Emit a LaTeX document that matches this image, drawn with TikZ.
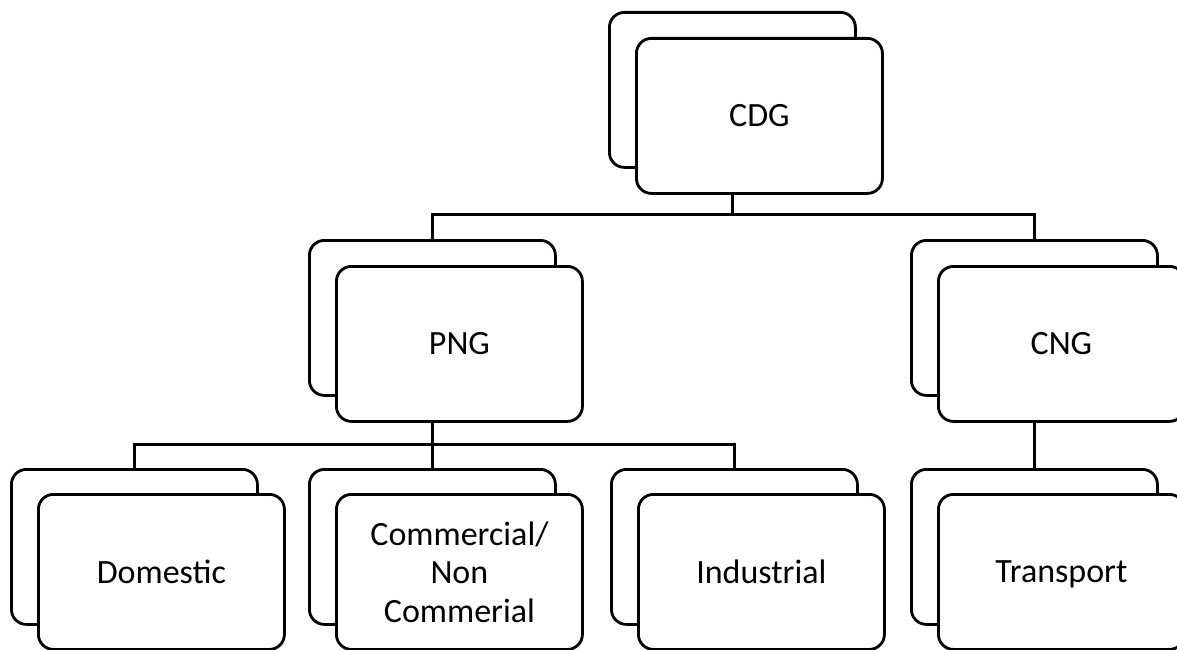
\documentclass[tikz,border=0pt]{standalone}
\usepackage{fontspec}
\setmainfont{Carlito}
\begin{document}
\begin{tikzpicture}[x=1pt,y=-1pt,
  card/.style={draw=black, line width=2.8pt, fill=white, rounded corners=15pt,
    minimum width=246pt, minimum height=155pt, inner sep=0pt, anchor=north west},
  label/.style={align=center, font=\fontsize{34}{38.5}\selectfont},
  link/.style={draw=black, line width=2.8pt}]
\useasboundingbox (0,0) rectangle (1177,650);
\clip (0,0) rectangle (1177,650);

% back cards
\node[card] (cdgB) at (608,11) {};
\node[card] (pngB) at (308,239) {};
\node[card] (cngB) at (910,239) {};
\node[card] (domB) at (10,468) {};
\node[card] (comB) at (308,468) {};
\node[card] (indB) at (610,468) {};
\node[card] (traB) at (910,468) {};

% front cards with labels
\node[card, label] (cdg) at (635,37) {CDG};
\node[card, label] (png) at (335,265) {PNG};
\node[card, label] (cng) at (937,265) {CNG};
\node[card, label] (dom) at (37,493) {Domestic};
\node[card, label] (com) at (335,493) {Commercial/\\Non\\Commerial};
\node[card, label] (ind) at (637,493) {Industrial};
\node[card, label] (tra) at (937,493) {\raisebox{0pt}[\height][0pt]{Transport}};

% connectors
\draw[link] (cdg.south -| cdgB.center) -- ++(0,20) coordinate (j1);
\draw[link] (pngB.north) |- (j1) -| (cngB.north);
\draw[link] (png.south -| pngB.center) -- ++(0,22) coordinate (j2);
\draw[link] (domB.north) |- (j2) -| (indB.north);
\draw[link] (j2) -- (comB.north);
\draw[link] (cng.south -| cngB.center) -- (traB.north);
\end{tikzpicture}
\end{document}
